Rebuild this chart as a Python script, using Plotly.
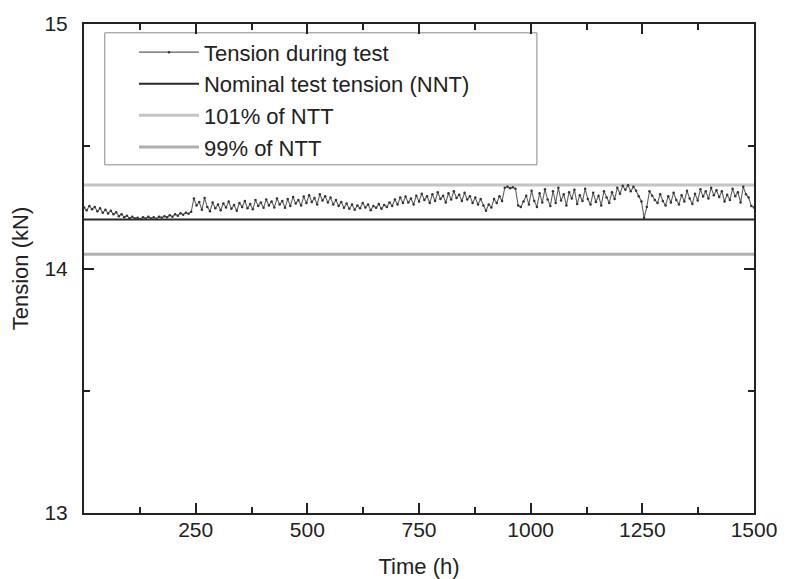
import plotly.graph_objects as go

TIME_H = list(range(0, 1501, 6))
TENSION_KN = [
    14.250, 14.238, 14.256, 14.242, 14.252, 14.234, 14.246, 14.228, 14.240, 14.225,
    14.236, 14.222, 14.230, 14.214, 14.222, 14.210, 14.216, 14.206, 14.212, 14.204,
    14.208, 14.202, 14.210, 14.204, 14.212, 14.205, 14.210, 14.203, 14.212, 14.208,
    14.214, 14.210, 14.218, 14.212, 14.222, 14.216, 14.226, 14.220, 14.228, 14.224,
    14.232, 14.286, 14.258, 14.272, 14.240, 14.288, 14.252, 14.234, 14.270, 14.246,
    14.262, 14.238, 14.266, 14.250, 14.274, 14.244, 14.260, 14.236, 14.268, 14.252,
    14.276, 14.246, 14.264, 14.242, 14.280, 14.256, 14.270, 14.248, 14.282, 14.258,
    14.274, 14.250, 14.286, 14.262, 14.276, 14.248, 14.284, 14.256, 14.292, 14.266,
    14.280, 14.258, 14.294, 14.268, 14.300, 14.272, 14.288, 14.262, 14.304, 14.278,
    14.296, 14.270, 14.290, 14.262, 14.280, 14.256, 14.272, 14.248, 14.266, 14.244,
    14.262, 14.240, 14.258, 14.246, 14.268, 14.250, 14.262, 14.238, 14.256, 14.248,
    14.264, 14.244, 14.260, 14.252, 14.270, 14.256, 14.282, 14.262, 14.290, 14.268,
    14.294, 14.270, 14.286, 14.262, 14.298, 14.274, 14.306, 14.280, 14.296, 14.268,
    14.304, 14.276, 14.312, 14.284, 14.298, 14.270, 14.308, 14.282, 14.316, 14.288,
    14.302, 14.276, 14.310, 14.282, 14.296, 14.268, 14.290, 14.262, 14.284, 14.258,
    14.236, 14.262, 14.250, 14.284, 14.268, 14.296, 14.276, 14.330, 14.334, 14.328,
    14.332, 14.326, 14.258, 14.252, 14.274, 14.298, 14.262, 14.318, 14.276, 14.252,
    14.308, 14.270, 14.324, 14.282, 14.256, 14.316, 14.268, 14.330, 14.278, 14.304,
    14.258, 14.312, 14.286, 14.322, 14.264, 14.300, 14.276, 14.326, 14.284, 14.262,
    14.310, 14.272, 14.298, 14.258, 14.316, 14.290, 14.268, 14.312, 14.284, 14.330,
    14.306, 14.338, 14.322, 14.340, 14.316, 14.334, 14.318, 14.296, 14.274, 14.208,
    14.252, 14.316, 14.298, 14.280, 14.268, 14.304, 14.276, 14.258, 14.296, 14.270,
    14.310, 14.280, 14.262, 14.300, 14.274, 14.318, 14.286, 14.264, 14.306, 14.278,
    14.324, 14.294, 14.316, 14.286, 14.330, 14.300, 14.320, 14.292, 14.316, 14.274,
    14.302, 14.280, 14.326, 14.296, 14.312, 14.270, 14.334, 14.304, 14.290, 14.256,
    14.250,
]

NOMINAL_KN = 14.2
TEST_SPAN = [0, 1500]
UPPER = NOMINAL_KN * 1.01
LOWER = NOMINAL_KN * 0.99

X_TICKS = [250, 500, 750, 1000, 1250, 1500]
Y_TICKS = [13, 14, 15]

FONT = "Liberation Sans, Arial, sans-serif"
INK = '#222222'

fig = go.Figure()

# tolerance band lines (light grey)
fig.add_trace(go.Scatter(
    x=TEST_SPAN, y=[UPPER, UPPER], mode='lines',
    name='101% of NTT', legendrank=3,
    line=dict(color='#c4c4c4', width=3),
    hoverinfo='skip'
))
fig.add_trace(go.Scatter(
    x=TEST_SPAN, y=[LOWER, LOWER], mode='lines',
    name='99% of NTT', legendrank=4,
    line=dict(color='#b0b0b0', width=3),
    hoverinfo='skip'
))

# nominal tension
fig.add_trace(go.Scatter(
    x=TEST_SPAN, y=[NOMINAL_KN, NOMINAL_KN], mode='lines',
    name='Nominal test tension (NNT)', legendrank=2,
    line=dict(color='#2a2a2a', width=2),
    hoverinfo='skip'
))

# measured tension
fig.add_trace(go.Scatter(
    x=TIME_H, y=TENSION_KN, mode='lines+markers',
    name='Tension during test', legendrank=1,
    line=dict(color='#606060', width=1.1),
    marker=dict(color='#333333', size=2.5),
))

# legend frame (the scan's box is wider than the entries)
fig.add_shape(
    type='rect', xref='paper', yref='paper',
    x0=0.031, x1=0.676, y0=0.712, y1=0.982,
    line=dict(color='#8a8a8a', width=1), layer='below'
)

axis_common = dict(
    showline=True, linecolor=INK, linewidth=2, mirror='ticks',
    ticks='inside', tickcolor=INK, tickwidth=1.5, ticklen=10,
    showgrid=False, zeroline=False, automargin=False,
    tickfont=dict(family=FONT, size=21, color=INK),
)

# page body adds an 8 px margin, so the figure is 8 px smaller than the window
fig.update_layout(
    width=783, height=571,
    paper_bgcolor='white', plot_bgcolor='white',
    margin=dict(l=76, r=37, t=16, b=66),
    font=dict(family=FONT, color=INK),
    showlegend=True,
    legend=dict(
        x=0.0746, y=0.985, xanchor='left', yanchor='top',
        bgcolor='rgba(0,0,0,0)', borderwidth=0,
        font=dict(family=FONT, size=22, color=INK),
        itemwidth=60, tracegroupgap=0,
    ),
    xaxis=dict(
        range=[0, 1500], tickvals=X_TICKS,
        minor=dict(dtick=125, tick0=0, ticks='inside', ticklen=6, tickcolor=INK),
        ticklabelstandoff=-3,
        title=dict(text='Time (h)', font=dict(family=FONT, size=22, color=INK), standoff=20),
        **axis_common
    ),
    yaxis=dict(
        range=[13, 15], tickvals=Y_TICKS,
        minor=dict(dtick=0.5, tick0=13, ticks='inside', ticklen=6, tickcolor=INK),
        ticklabelstandoff=10,
        title=dict(text='Tension (kN)', font=dict(family=FONT, size=22, color=INK), standoff=12),
        **axis_common
    ),
)

fig.write_html("out.html")
